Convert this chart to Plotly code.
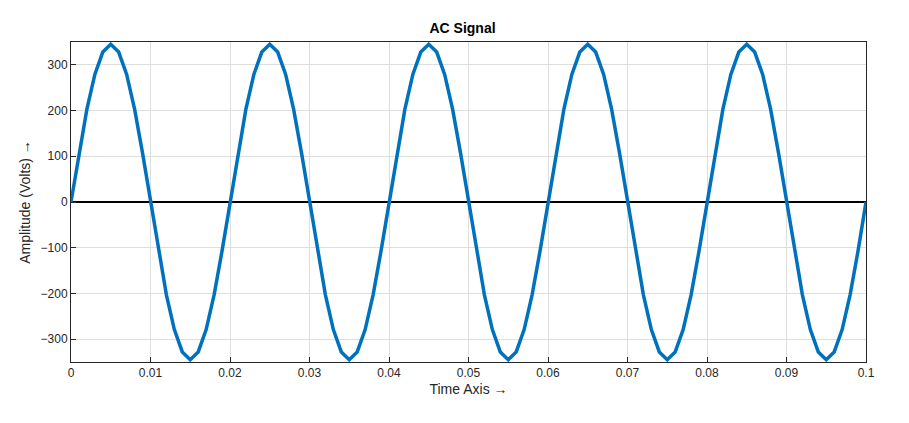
import plotly.graph_objects as go

# time samples (s), 1 ms step
time_s = [
    0.000, 0.001, 0.002, 0.003, 0.004, 0.005, 0.006, 0.007, 0.008, 0.009,
    0.010, 0.011, 0.012, 0.013, 0.014, 0.015, 0.016, 0.017, 0.018, 0.019,
    0.020, 0.021, 0.022, 0.023, 0.024, 0.025, 0.026, 0.027, 0.028, 0.029,
    0.030, 0.031, 0.032, 0.033, 0.034, 0.035, 0.036, 0.037, 0.038, 0.039,
    0.040, 0.041, 0.042, 0.043, 0.044, 0.045, 0.046, 0.047, 0.048, 0.049,
    0.050, 0.051, 0.052, 0.053, 0.054, 0.055, 0.056, 0.057, 0.058, 0.059,
    0.060, 0.061, 0.062, 0.063, 0.064, 0.065, 0.066, 0.067, 0.068, 0.069,
    0.070, 0.071, 0.072, 0.073, 0.074, 0.075, 0.076, 0.077, 0.078, 0.079,
    0.080, 0.081, 0.082, 0.083, 0.084, 0.085, 0.086, 0.087, 0.088, 0.089,
    0.090, 0.091, 0.092, 0.093, 0.094, 0.095, 0.096, 0.097, 0.098, 0.099,
    0.100,
]

# amplitude (V)
volts = [
    0, 107, 203, 279, 328, 345, 328, 279, 203, 107,
    0, -107, -203, -279, -328, -345, -328, -279, -203, -107,
    0, 107, 203, 279, 328, 345, 328, 279, 203, 107,
    0, -107, -203, -279, -328, -345, -328, -279, -203, -107,
    0, 107, 203, 279, 328, 345, 328, 279, 203, 107,
    0, -107, -203, -279, -328, -345, -328, -279, -203, -107,
    0, 107, 203, 279, 328, 345, 328, 279, 203, 107,
    0, -107, -203, -279, -328, -345, -328, -279, -203, -107,
    0, 107, 203, 279, 328, 345, 328, 279, 203, 107,
    0, -107, -203, -279, -328, -345, -328, -279, -203, -107,
    0,
]

x_ticks = [0, 0.01, 0.02, 0.03, 0.04, 0.05, 0.06, 0.07, 0.08, 0.09, 0.1]
x_labels = ["0", "0.01", "0.02", "0.03", "0.04", "0.05", "0.06", "0.07", "0.08", "0.09", "0.1"]
y_ticks = [-300, -200, -100, 0, 100, 200, 300]

fig = go.Figure()
fig.add_trace(go.Scatter(
    x=[time_s[0], time_s[-1]], y=[0, 0], mode="lines",
    line=dict(color="black", width=2), hoverinfo="skip",
))
fig.add_trace(go.Scatter(
    x=time_s, y=volts, mode="lines",
    line=dict(color="#0072BD", width=3.5),
))

axis = dict(
    showgrid=True, gridcolor="#DEDEDE", zeroline=False, automargin=False,
    showline=True, linecolor="#262626", mirror=True, linewidth=1,
    ticks="inside", ticklen=5, tickcolor="#262626",
    tickfont=dict(size=12, color="#262626"),
)
fig.update_layout(
    width=909, height=423,
    paper_bgcolor="white", plot_bgcolor="white",
    font=dict(family="Liberation Sans, Arial, sans-serif", color="#262626"),
    margin=dict(l=63, r=51, t=34, b=69),
    showlegend=False,
    title=dict(text="<b>AC Signal</b>", x=0.5, xanchor="center", y=0.965,
               font=dict(size=14, color="black")),
    xaxis=dict(axis, range=[0, 0.1], tickvals=x_ticks, ticktext=x_labels,
               title=dict(text="Time Axis →", font=dict(size=14), standoff=4)),
    yaxis=dict(axis, range=[-350, 350], tickvals=y_ticks,
               title=dict(text="Amplitude (Volts) →", font=dict(size=14), standoff=6)),
)

fig.write_html("out.html")
